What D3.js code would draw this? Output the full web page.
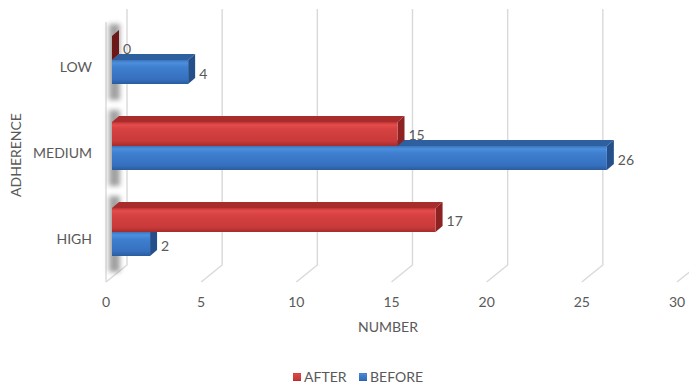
<!DOCTYPE html>
<html>
<head>
<meta charset="utf-8">
<script src="https://cdn.jsdelivr.net/npm/d3@7/dist/d3.min.js"></script>
<style>
  html, body { margin: 0; padding: 0; background: #fff; }
  svg { display: block; font-family: Lato, "Open Sans", sans-serif; }
</style>
</head>
<body>
<svg id="chart" width="689" height="388"></svg>
<script>
// Adherence levels and patient counts before / after
const categories = ["LOW", "MEDIUM", "HIGH"];
const afterValues = [0, 15, 17];
const beforeValues = [4, 26, 2];
const seriesNames = ["AFTER", "BEFORE"];
const xTicks = [0, 5, 10, 15, 20, 25, 30];

const svg = d3.select("#chart");
const textColor = "#595959";
const fontSize = 14;

// Front plane of the 3D floor and the back wall offset
const x = d3.scaleLinear().domain([0, 30]).range([106, 677]);
const barShift = 6;      // bars sit a little behind the front edge
const backShift = 21;    // back wall is further right/up
const floorFront = 282, floorBack = 265;
const wallTopFront = 22, wallTopBack = 9;
const y = d3.scalePoint().domain(categories).range([60, 232]);
const barH = 24;
const depthX = 7, depthY = -6;

const defs = svg.append("defs");
function vGrad(id, stops) {
  const g = defs.append("linearGradient").attr("id", id)
    .attr("x1", 0).attr("y1", 0).attr("x2", 0).attr("y2", 1);
  stops.forEach(([o, c]) => g.append("stop").attr("offset", o).attr("stop-color", c));
}
vGrad("blueFront", [[0, "#3a74bd"], [0.12, "#4d8fdd"], [0.3, "#3f7fcf"], [0.8, "#3670bf"], [1, "#2a5c9e"]]);
vGrad("redFront", [[0, "#bf3434"], [0.12, "#e54c4c"], [0.3, "#d64141"], [0.8, "#c93a3a"], [1, "#a52c2c"]]);
defs.append("filter").attr("id", "soft").attr("x", "-100%").attr("y", "-30%").attr("width", "300%").attr("height", "160%")
  .append("feGaussianBlur").attr("stdDeviation", 2.5);

const colors = {
  AFTER: { front: "url(#redFront)", top: "#a82c2c", side: "#8c2222", zero: "#6d1818" },
  BEFORE: { front: "url(#blueFront)", top: "#2e5f9f", side: "#244f8a", zero: "#1f4478" }
};

// Gridlines on the back wall and their floor diagonals
const grid = svg.append("g").attr("stroke", "#d9d9d9").attr("stroke-width", 1.4).attr("fill", "none");
xTicks.forEach(t => {
  const bx = x(t) + backShift;
  grid.append("path").attr("d", `M${bx},${wallTopBack}L${bx},${floorBack}L${x(t)},${floorFront}`);
});
// Left side wall front edge
grid.append("path").attr("d", `M${x(0)},${wallTopFront}L${x(0)},${floorFront}`);

// Soft shadows of the bar groups on the side wall
categories.forEach(c => {
  const cy = y(c);
  svg.append("rect")
    .attr("x", x(0) + 3).attr("y", cy - barH - 12)
    .attr("width", 11).attr("height", barH * 2 + 28)
    .attr("fill", "#7a7a7a").attr("opacity", 0.7)
    .attr("filter", "url(#soft)");
});

// 3D bars
function bar(g, v, yTop, yBot, col) {
  const x0 = x(0) + barShift, x1 = x(v) + barShift;
  if (v > 0) {
    g.append("polygon").attr("fill", col.top)
      .attr("points", [[x0, yTop], [x1, yTop], [x1 + depthX, yTop + depthY], [x0 + depthX, yTop + depthY]].join(" "));
  }
  g.append("polygon").attr("fill", v > 0 ? col.side : col.zero)
    .attr("points", [[x1, yTop], [x1 + depthX, yTop + depthY], [x1 + depthX, yBot + depthY], [x1, yBot]].join(" "));
  if (v > 0) {
    g.append("rect").attr("x", x0).attr("y", yTop).attr("width", x1 - x0).attr("height", yBot - yTop)
      .attr("fill", col.front);
  }
}

const bars = svg.append("g");
categories.forEach((c, i) => {
  const cy = y(c);
  // lower bar first so the upper bar's front face covers its top
  bar(bars, beforeValues[i], cy, cy + barH, colors.BEFORE);
  bar(bars, afterValues[i], cy - barH, cy, colors.AFTER);
});

// Data labels
const labels = svg.append("g").attr("fill", textColor).attr("font-size", fontSize);
categories.forEach((c, i) => {
  const cy = y(c);
  labels.append("text").attr("x", x(afterValues[i]) + barShift + 11).attr("y", cy - barH / 2 + 1)
    .attr("dy", "0.35em").text(afterValues[i]);
  labels.append("text").attr("x", x(beforeValues[i]) + barShift + 11).attr("y", cy + barH / 2 + 2)
    .attr("dy", "0.35em").text(beforeValues[i]);
});

// Category labels
const cat = svg.append("g").attr("fill", textColor).attr("font-size", fontSize).attr("text-anchor", "end");
categories.forEach(c => {
  cat.append("text").attr("x", 92).attr("y", y(c) + 7).attr("dy", "0.35em").text(c);
});

// Value axis tick labels
const ticks = svg.append("g").attr("fill", textColor).attr("font-size", fontSize).attr("text-anchor", "middle");
xTicks.forEach(t => {
  ticks.append("text").attr("x", x(t)).attr("y", 302).attr("dy", "0.35em").text(t);
});

// Axis titles
svg.append("text").attr("x", 388).attr("y", 327).attr("dy", "0.35em")
  .attr("text-anchor", "middle").attr("fill", textColor).attr("font-size", fontSize).text("NUMBER");
svg.append("text").attr("transform", "translate(16,155) rotate(-90)").attr("dy", "0.35em")
  .attr("text-anchor", "middle").attr("fill", textColor).attr("font-size", fontSize).text("ADHERENCE");

// Legend
const legend = svg.append("g").attr("font-size", fontSize).attr("fill", textColor);
const legendItems = [
  { name: seriesNames[0], fill: "url(#redFront)", x: 293 },
  { name: seriesNames[1], fill: "url(#blueFront)", x: 359 }
];
legendItems.forEach(d => {
  legend.append("rect").attr("x", d.x).attr("y", 373).attr("width", 8).attr("height", 8).attr("fill", d.fill);
  legend.append("text").attr("x", d.x + 11).attr("y", 377).attr("dy", "0.35em").text(d.name);
});
</script>
</body>
</html>
